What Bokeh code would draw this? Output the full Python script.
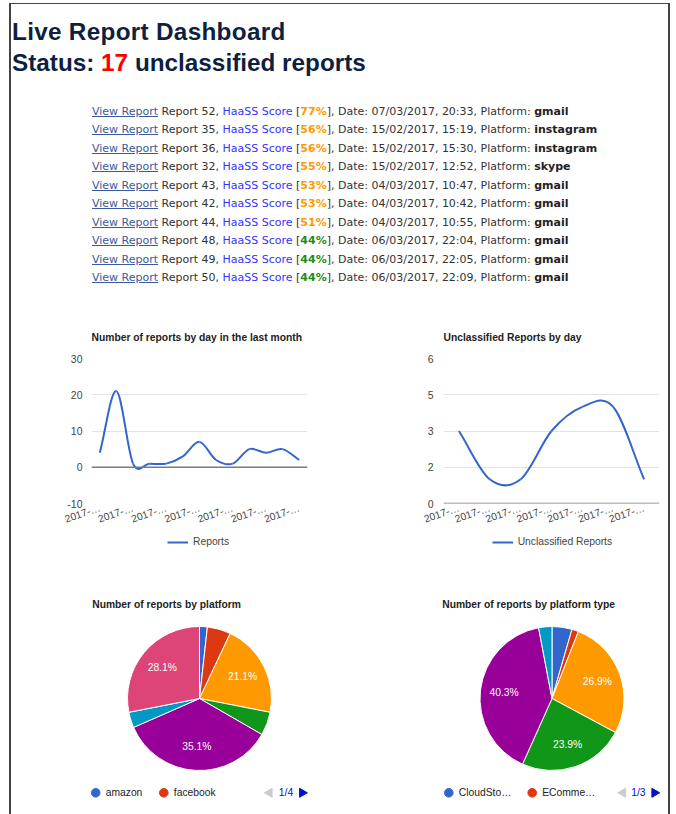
import math
from bokeh.plotting import figure
from bokeh.models import Range1d, FixedTicker, Span, Legend, LegendItem, Div, ColumnDataSource
from bokeh.layouts import row, column
from bokeh.embed import file_html
from bokeh.resources import INLINE
from bokeh.core.properties import value

# ---------------- data ----------------
dashboard_title = "Live Report Dashboard"
unclassified_count = 17

report_ids = [52, 35, 36, 32, 43, 42, 44, 48, 49, 50]
haass_scores = [77, 56, 56, 55, 53, 53, 51, 44, 44, 44]
report_dates = ["07/03/2017", "15/02/2017", "15/02/2017", "15/02/2017", "04/03/2017",
                "04/03/2017", "04/03/2017", "06/03/2017", "06/03/2017", "06/03/2017"]
report_times = ["20:33", "15:19", "15:30", "12:52", "10:47", "10:42", "10:55", "22:04", "22:05", "22:09"]
report_platforms = ["gmail", "instagram", "instagram", "skype", "gmail", "gmail", "gmail",
                    "gmail", "gmail", "gmail"]

daily_title = "Number of reports by day in the last month"
daily_reports = [4, 21, 1, 1, 1, 3, 7, 2, 1, 5, 4, 5, 2]
daily_tick_positions = [0, 2, 4, 6, 8, 10, 12]
daily_tick_labels = ["2017-…", "2017-…", "2017-…", "2017-…", "2017-…", "2017-…", "2017-…"]
daily_y_ticks = [-10, 0, 10, 20, 30]
daily_y_labels = ["-10", "0", "10", "20", "30"]

unclassified_title = "Unclassified Reports by day"
unclassified_by_day = [3, 1, 1, 3, 4, 4, 1]
unclassified_tick_positions = [0, 1, 2, 3, 4, 5, 6]
unclassified_tick_labels = ["2017-…", "2017-…", "2017-…", "2017-…", "2017-…", "2017-…", "2017-…"]
unclassified_y_ticks = [0, 1.5, 3, 4.5, 6]
unclassified_y_labels = ["0", "2", "3", "5", "6"]

platform_title = "Number of reports by platform"
platform_counts = [1, 3, 12, 3, 20, 2, 16]
platform_legend_labels = ["amazon", "facebook"]

platform_type_title = "Number of reports by platform type"
platform_type_counts = [3, 1, 18, 16, 27, 2]
platform_type_legend_labels = ["CloudSto…", "EComme…"]

pie_colors = ["#3366cc", "#dc3912", "#ff9900", "#109618", "#990099", "#0099c6", "#dd4477"]
line_color = "#3366cc"

FONT = "Liberation Sans"
BORDER = "#444444"

# ---------------- header (titles + list) ----------------
def score_color(s):
    return "#ff9900" if s >= 50 else "#1e8c1e"

rows_html = []
for rid, sc, d, t, pf in zip(report_ids, haass_scores, report_dates, report_times, report_platforms):
    rows_html.append(
        f'<div><span style="color:#3a5a9c;text-decoration:underline">View Report</span> '
        f'Report {rid}, <span style="color:#3333ff">HaaSS Score</span> '
        f'[<b style="color:{score_color(sc)}">{sc}%</b>], Date: {d}, {t}, '
        f'Platform: <b style="color:#222">{pf}</b></div>'
    )

header_html = (
    '<div style="position:relative;width:657px;height:296px;margin:0;padding:0;">'
    f'<div style="position:absolute;left:1px;top:12px;white-space:nowrap;'
    f'font-family:\'Liberation Sans\',Arial,sans-serif;font-weight:bold;font-size:24.3px;'
    f'line-height:31px;color:#0f1f3f;"><span style="letter-spacing:0.3px">{dashboard_title}</span><br>'
    f'Status: <span style="color:#ff0000">{unclassified_count}</span> unclassified reports</div>'
    '<div style="position:absolute;left:81px;top:99px;white-space:nowrap;'
    'font-family:\'DejaVu Sans\',Verdana,sans-serif;font-size:11px;line-height:18.45px;color:#333;">'
    + "".join(rows_html) +
    '</div></div>'
)


def block(w, h, color=None):
    st = {"background-color": color} if color else {}
    return Div(text="", width=w, height=h, margin=0, styles=st)


header = Div(text=header_html, width=657, height=296, margin=0, styles={"overflow": "hidden"})


# ---------------- line charts ----------------
def smooth_segments(vals):
    n = len(vals)
    xs = list(range(n))
    m = []
    for i in range(n):
        if i == 0:
            m.append(vals[1] - vals[0])
        elif i == n - 1:
            m.append(vals[-1] - vals[-2])
        else:
            m.append((vals[i + 1] - vals[i - 1]) / 2)
    return dict(
        x0=xs[:-1], y0=vals[:-1], x1=xs[1:], y1=vals[1:],
        cx0=[x + 1 / 3 for x in xs[:-1]],
        cy0=[vals[i] + m[i] / 3 for i in range(n - 1)],
        cx1=[x - 1 / 3 for x in xs[1:]],
        cy1=[vals[i + 1] - m[i + 1] / 3 for i in range(n - 1)],
    )


def line_chart(title, vals, tpos, tlabels, yticks, ylabels, left, right, ystandoff):
    n = len(vals)
    p = figure(frame_width=216, frame_height=145, x_range=Range1d(-0.5, n - 0.5),
               y_range=Range1d(min(yticks), max(yticks)),
               min_border_left=left, min_border_right=right, min_border_top=58, min_border_bottom=30,
               toolbar_location=None, output_backend="svg", title=title, margin=0)
    p.title.align = "left"
    p.title.text_font = FONT
    p.title.text_font_size = "10.3px"
    p.title.text_font_style = "bold"
    p.title.text_color = "#222222"
    p.title.standoff = 32
    p.outline_line_color = None
    p.background_fill_color = "white"
    p.border_fill_color = "white"

    p.xgrid.visible = False
    p.ygrid.ticker = FixedTicker(ticks=yticks)
    p.ygrid.grid_line_color = "#e3e3e3"
    p.ygrid.grid_line_width = 1

    ya = p.yaxis[0]
    ya.ticker = FixedTicker(ticks=yticks)
    ya.major_label_overrides = {t: l for t, l in zip(yticks, ylabels)}
    ya.axis_line_color = None
    ya.major_tick_line_color = None
    ya.minor_tick_line_color = None
    ya.major_tick_out = 0
    ya.major_tick_in = 0
    ya.minor_tick_out = 0
    ya.major_label_standoff = ystandoff
    ya.major_label_text_font = FONT
    ya.major_label_text_font_size = "10.5px"
    ya.major_label_text_color = "#444444"

    xa = p.xaxis[0]
    xa.ticker = FixedTicker(ticks=tpos)
    xa.major_label_overrides = {t: l for t, l in zip(tpos, tlabels)}
    xa.axis_line_color = None
    xa.major_tick_line_color = None
    xa.minor_tick_line_color = None
    xa.major_tick_out = 0
    xa.major_tick_in = 0
    xa.minor_tick_out = 0
    xa.major_label_orientation = 0.33
    xa.major_label_standoff = 4
    xa.major_label_text_font = FONT
    xa.major_label_text_font_size = "10.3px"
    xa.major_label_text_color = "#444444"

    p.add_layout(Span(location=0, dimension="width", line_color="#7a7a7a", line_width=1.6))

    src = ColumnDataSource(smooth_segments(vals))
    p.bezier(x0="x0", y0="y0", x1="x1", y1="y1", cx0="cx0", cy0="cy0", cx1="cx1", cy1="cy1",
             source=src, line_color=line_color, line_width=2)
    return p


def legend_strip(width, label, legend_x):
    # a strip below each line chart that holds the series legend
    p = figure(frame_width=width, frame_height=27, x_range=Range1d(0, 1), y_range=Range1d(0, 1),
               min_border_left=0, min_border_right=0, min_border_top=0, min_border_bottom=0,
               x_axis_location=None, y_axis_location=None, margin=0,
               toolbar_location=None, output_backend="svg")
    p.grid.visible = False
    p.outline_line_color = None
    # single-point line: draws nothing itself, only supplies the legend swatch style
    r = p.line(x=[-1], y=[-1], line_color=line_color, line_width=2)
    legend = Legend(items=[LegendItem(label=label, renderers=[r])],
                    orientation="horizontal", location=(legend_x, 12.5),
                    border_line_color=None, background_fill_alpha=0,
                    padding=0, margin=0, glyph_width=21, glyph_height=12,
                    label_standoff=5, label_height=12,
                    label_text_font=FONT, label_text_font_size="10.3px",
                    label_text_color="#444444")
    p.add_layout(legend, "center")
    return p


chart_daily = line_chart(daily_title, daily_reports, daily_tick_positions, daily_tick_labels,
                         daily_y_ticks, daily_y_labels, 80, 32, 9)
chart_uncl = line_chart(unclassified_title, unclassified_by_day, unclassified_tick_positions,
                        unclassified_tick_labels, unclassified_y_ticks, unclassified_y_labels,
                        104, 9, 10)
legend_daily = legend_strip(328, "Reports", 156)
legend_uncl = legend_strip(329, "Unclassified Reports", 152.7)


# ---------------- pie charts ----------------
def pie_chart(title, counts, legend_labels, legend_xs, pager_xs, cx, title_offset, fw):
    n = len(counts)
    H = 200
    p = figure(frame_width=fw, frame_height=H, x_range=Range1d(0, fw), y_range=Range1d(0, H),
               min_border_left=0, min_border_right=0, min_border_top=50, min_border_bottom=0,
               x_axis_location=None, y_axis_location=None, margin=0,
               toolbar_location=None, output_backend="svg", title=title)
    p.title.align = "left"
    p.title.offset = title_offset
    p.title.text_font = FONT
    p.title.text_font_size = "10.3px"
    p.title.text_font_style = "bold"
    p.title.text_color = "#222222"
    p.title.standoff = 2
    p.grid.visible = False
    p.outline_line_color = None

    cy = 112
    R = 72
    total = sum(counts)
    starts, ends = [], []
    cum = 0
    for c in counts:
        starts.append(math.pi / 2 - 2 * math.pi * cum / total)
        cum += c
        ends.append(math.pi / 2 - 2 * math.pi * cum / total)
    colors = pie_colors[:n]
    p.wedge(x=[cx] * n, y=[cy] * n, radius=R, start_angle=starts, end_angle=ends,
            direction="clock", fill_color=colors, line_color="white", line_width=1)

    lx, ly, lt = [], [], []
    for c, s, e in zip(counts, starts, ends):
        if c / total >= 0.1:
            mid = (s + e) / 2
            lx.append(cx + 0.67 * R * math.cos(mid))
            ly.append(cy + 0.67 * R * math.sin(mid))
            lt.append(f"{100 * c / total:.1f}%")
    p.text(x=lx, y=ly, text=lt, text_align="center", text_baseline="middle",
           text_color="white", text_font=value(FONT), text_font_size="10.3px")

    ky = 17.7
    k = len(legend_labels)
    p.scatter(x=legend_xs, y=[ky] * k, marker="circle", size=8.6,
              fill_color=colors[:k], line_color=colors[:k])
    p.text(x=[x + 10 for x in legend_xs], y=[ky] * k, text=legend_labels,
           text_align="left", text_baseline="middle", text_color="#222222",
           text_font=value(FONT), text_font_size="10.3px")

    pages = math.ceil(n / k)
    p.scatter(x=[pager_xs[0]], y=[ky], marker="triangle", size=9, angle=math.pi / 2,
              fill_color="#cccccc", line_color="#cccccc")
    p.text(x=[pager_xs[1]], y=[ky], text=[f"1/{pages}"], text_align="left", text_baseline="middle",
           text_color="#0011cc", text_font=value(FONT), text_font_size="10.3px")
    p.scatter(x=[pager_xs[2]], y=[ky], marker="triangle", size=9, angle=-math.pi / 2,
              fill_color="#0011cc", line_color="#0011cc")
    return p


pie_platform = pie_chart(platform_title, platform_counts, platform_legend_labels,
                         [84.2, 152.3], [258, 267.3, 290.7], 188, 80.7, 328)
pie_type = pie_chart(platform_type_title, platform_type_counts, platform_type_legend_labels,
                     [109.3, 192.7], [283.5, 291.7, 315], 212.5, 102.7, 329)

main = column(header,
              row(column(chart_daily, legend_daily, margin=0, spacing=0),
                  column(chart_uncl, legend_uncl, margin=0, spacing=0), margin=0, spacing=0),
              row(pie_platform, pie_type, margin=0, spacing=0),
              margin=0, spacing=0)
framed = column(block(661, 1, BORDER),
                row(block(2, 810, BORDER), main, block(2, 810, BORDER), margin=0, spacing=0),
                margin=0, spacing=0)
layout = column(block(670, 3),
                row(block(9, 811), framed, margin=0, spacing=0),
                margin=0, spacing=0)

open("out.html", "w").write(file_html(layout, INLINE, title="Live Report Dashboard"))
